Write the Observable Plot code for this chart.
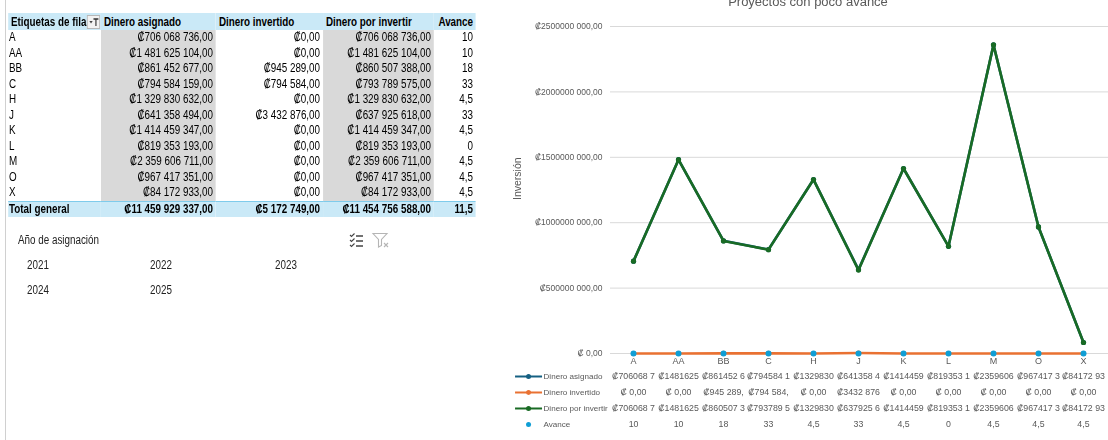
<!DOCTYPE html>
<html><head><meta charset="utf-8">
<script src="https://cdn.jsdelivr.net/npm/d3@7"></script>
<script src="https://cdn.jsdelivr.net/npm/@observablehq/plot@0.6"></script>
<style>
body{margin:0;width:1108px;height:440px;overflow:hidden;background:#fff;position:relative;font-family:"Liberation Sans",Arial,sans-serif;}
#edge{position:absolute;left:5px;top:0;width:1px;height:440px;background:#d0d0d0;}
#left{position:absolute;left:0;top:0;width:1351px;height:440px;transform:scaleX(0.82);transform-origin:0 0;}
table.pv{position:absolute;left:9.8px;top:13px;border-collapse:collapse;font-size:12px;color:#000;table-layout:fixed;width:570.7px;}
table.pv th,table.pv td{padding:0 3.6px;white-space:nowrap;overflow:hidden;}
table.pv th{height:17px;background:#CAE9F7;text-align:left;font-weight:bold;}
table.pv td{height:15.5px;line-height:15px;text-align:right;}
table.pv td.lab{text-align:left;padding-left:1.2px;}
table.pv td.g{background:#D9D9D9;}
table.pv tr.tot td{background:#CAE9F7;font-weight:bold;border-top:1px solid #7FCBEB;height:15px;}
.fbtn{position:absolute;left:96px;top:2px;width:14px;height:12px;border:1px solid #b7b7b7;background:#f2f2f2;}
.sl{position:absolute;font-size:12px;color:#222;line-height:14px;white-space:nowrap;}
#title{position:absolute;left:500px;width:616px;top:-6px;text-align:center;font-size:13px;color:#595959;line-height:15px;}
#chart{position:absolute;left:500px;top:0;}
#dtable{position:absolute;left:500px;top:368px;}
</style></head>
<body>
<div id="edge"></div>
<div id="left"><div id="pivot"></div><div id="slicer"></div></div>
<svg id="icons" style="position:absolute;left:349px;top:232px" width="42" height="16">
<path d="M1 3l1.5 1.5 3-3M1 8l1.5 1.5 3-3M1 13l1.5 1.5 3-3" stroke="#444" stroke-width="1.1" fill="none"/>
<path d="M7 4h7M7 9h7M7 14h7" stroke="#444" stroke-width="1.3"/>
<path d="M24 1.5h14l-5.5 6v6l-3 1.5v-7.5z" stroke="#b5b5b5" stroke-width="1.1" fill="none"/>
<path d="M35 11l4 4M39 11l-4 4" stroke="#b5b5b5" stroke-width="1.1"/>
</svg>
<div id="title">Proyectos con poco avance</div>
<div id="chart"></div>
<div id="dtable"></div>
<script>
const categories = ["A","AA","BB","C","H","J","K","L","M","O","X"];
const dineroAsignado = [706068736,1481625104,861452677,794584159,1329830632,641358494,1414459347,819353193,2359606711,967417351,84172933];
const dineroInvertido = [0,0,945289,794584,0,3432876,0,0,0,0,0];
const dineroPorInvertir = [706068736,1481625104,860507388,793789575,1329830632,637925618,1414459347,819353193,2359606711,967417351,84172933];
const avance = [10,10,18,33,4.5,33,4.5,0,4.5,4.5,4.5];
const headers = ["Etiquetas de fila","Dinero asignado","Dinero invertido","Dinero por invertir","Avance"];
const totalLabel = "Total general";
const yTicks = [0,500000000,1000000000,1500000000,2000000000,2500000000];
const years = ["2021","2022","2023","2024","2025"];
const slicerTitle = "Año de asignación";
const seriesNames = ["Dinero asignado","Dinero invertido","Dinero por invertir","Avance"];
const seriesColors = ["#156082","#E97132","#196B24","#0F9ED5"];
const seriesValues = [dineroAsignado,dineroInvertido,dineroPorInvertir,avance];

// formats
const fmtTable = v => "₡" + d3.format(",.2f")(v).replace(/,/g," ").replace(".",",");
const fmtNum = v => String(v).replace(".",",");
const fmtChart = v => v >= 1000 ? "₡" + Math.floor(v/1000) + " " + String(v%1000).padStart(3,"0") + ",00" : "₡ " + v + ",00";

// pivot table (left panel is horizontally condensed by 0.82 to mimic a narrow font)
const sum = a => a.reduce((s,x)=>s+x,0);
let h = '<table class="pv"><colgroup><col style="width:113.4px"><col style="width:140.2px"><col style="width:130.5px"><col style="width:135.4px"><col style="width:51.2px"></colgroup>';
h += '<tr>' + headers.map((t,i)=> i===0 ? `<th style="position:relative">${t}<span class="fbtn"><svg width="14" height="12"><path d="M2 5h4l-2 2.5z" fill="#444"/><path d="M7 3h6M10 3v7" stroke="#333" stroke-width="1.4" fill="none"/></svg></span></th>` : `<th${i===4?' style="text-align:right"':''}>${t}</th>`).join('') + '</tr>';
categories.forEach((c,i)=>{
  h += `<tr><td class="lab">${c}</td><td class="g">${fmtTable(dineroAsignado[i])}</td><td>${fmtTable(dineroInvertido[i])}</td><td class="g">${fmtTable(dineroPorInvertir[i])}</td><td>${fmtNum(avance[i])}</td></tr>`;
});
h += `<tr class="tot"><td class="lab">${totalLabel}</td><td>${fmtTable(sum(dineroAsignado))}</td><td>${fmtTable(sum(dineroInvertido))}</td><td>${fmtTable(sum(dineroPorInvertir))}</td><td>${fmtNum(Math.round(sum(avance)/avance.length*10)/10)}</td></tr>`;
h += '</table>';
document.getElementById("pivot").innerHTML = h;

// slicer (x positions divided by 0.82 because of the condensed panel)
const yearPos = [[27,258],[150,258],[275,258],[27,283],[150,283]];
let s = `<div class="sl" style="left:${18/0.82}px;top:233px">${slicerTitle}</div>`;
years.forEach((y,i)=>{ s += `<div class="sl" style="left:${yearPos[i][0]/0.82}px;top:${yearPos[i][1]}px">${y}</div>`; });
document.getElementById("slicer").innerHTML = s;

// chart data (long format)
const long = seriesNames.flatMap((n,k)=> categories.map((c,i)=>({serie:n, cat:c, value:seriesValues[k][i]})));
const of = n => long.filter(d=>d.serie===n);
const font = '"Liberation Sans",Arial,sans-serif';

const lineMarks = [];
seriesNames.forEach((n,k)=>{
  if (n !== "Avance") lineMarks.push(Plot.lineY(of(n), {x:"cat", y:"value", stroke:seriesColors[k], strokeWidth:2.6}));
  lineMarks.push(Plot.dot(of(n), {x:"cat", y:"value", r: n==="Avance"?3:2.6, fill:seriesColors[k], stroke:"none"}));
});

const chart = Plot.plot({
  width:608, height:368,
  marginLeft:110, marginRight:3, marginTop:26, marginBottom:15,
  style:{fontFamily:font, fontSize:"8.5px", color:"#595959", background:"transparent", overflow:"visible"},
  x:{type:"point", domain:categories, padding:0.5, label:null},
  y:{domain:[0,2500000000], label:"Inversión"},
  marks:[
    Plot.ruleY(yTicks, {stroke:"#d9d9d9", strokeWidth:1, insetRight:-3}),
    Plot.axisY(yTicks, {tickSize:0, tickPadding:8, tickFormat:fmtChart, label:null, fill:"#595959"}),
    Plot.text(["Inversión"], {frameAnchor:"left", dx:-93, dy:10, rotate:-90, text:d=>d, fontSize:10.5, fill:"#595959"}),
    Plot.axisX({tickSize:0, tickPadding:4, label:null, fill:"#595959", fontSize:9}),
    ...lineMarks
  ]
});
document.getElementById("chart").appendChild(chart);

// data table below the chart
const lineSymbol = {draw(ctx){ ctx.moveTo(-13.5,0); ctx.lineTo(13.5,0); }};
const keyData = seriesNames.map((n,k)=>({name:n, color:seriesColors[k]}));
const tableText = d => d.serie === "Avance" ? fmtNum(d.value) : fmtChart(d.value).slice(0,9).trimEnd();
const dt = Plot.plot({
  width:608, height:64.4,
  marginLeft:110, marginRight:3, marginTop:0, marginBottom:0,
  style:{fontFamily:font, fontSize:"8.8px", color:"#595959", background:"transparent", overflow:"visible"},
  x:{type:"point", domain:categories, padding:0.5, axis:null},
  y:{type:"point", domain:seriesNames, padding:0.5, axis:null},
  marks:[
    Plot.text(long, {x:"cat", y:"serie", text:tableText, fill:"#595959"}),
    Plot.text(seriesNames, {y:d=>d, frameAnchor:"left", dx:-67, textAnchor:"start", text:d=>d, fill:"#595959", fontSize:8.1}),
    ...keyData.filter(d=>d.name!=="Avance").map(d=>Plot.dot([d], {y:"name", frameAnchor:"left", dx:-82, symbol:lineSymbol, stroke:d.color, fill:"none", strokeWidth:2})),
    ...keyData.map(d=>Plot.dot([d], {y:"name", frameAnchor:"left", dx:-82, r:2.5, fill:d.color, stroke:"none"}))
  ]
});
document.getElementById("dtable").appendChild(dt);
</script>
</body></html>
